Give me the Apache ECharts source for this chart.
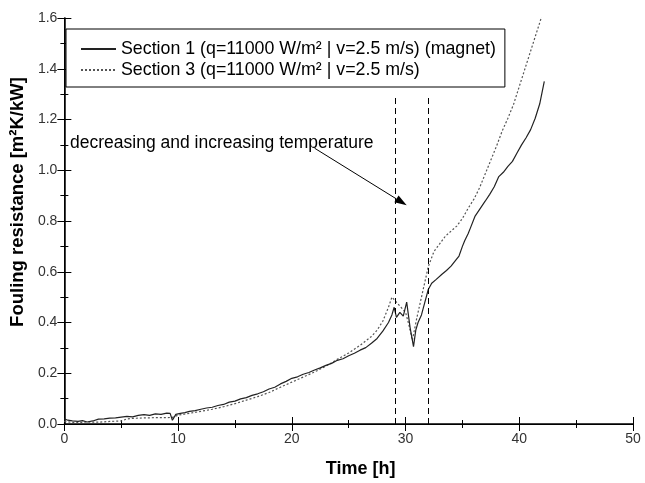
<!DOCTYPE html>
<html>
<head>
<meta charset="utf-8">
<script src="https://cdn.jsdelivr.net/npm/echarts@6/dist/echarts.min.js"></script>
<style>
  html, body { margin: 0; padding: 0; background: #fff; }
  #chart { width: 645px; height: 483px; }
</style>
</head>
<body>
<div id="chart"></div>
<script>
// Section 1 (magnet) - [time h, fouling resistance m²K/kW]
var section1 = [
  [0, 0.020], [0.3, 0.015], [0.7, 0.012], [1.2, 0.010], [1.6, 0.013], [2.0, 0.008],
  [2.5, 0.012], [3.0, 0.019], [3.5, 0.020], [4.0, 0.023], [4.5, 0.024], [5.0, 0.027],
  [5.5, 0.030], [6.0, 0.028], [6.5, 0.034], [7.0, 0.037], [7.5, 0.034], [8.0, 0.040],
  [8.5, 0.038], [9.0, 0.043], [9.3, 0.042], [9.5, 0.015], [9.8, 0.038], [10.2, 0.042],
  [10.6, 0.045], [11.0, 0.050], [11.5, 0.053], [12.0, 0.058], [12.5, 0.063], [13.0, 0.066],
  [13.5, 0.073], [14.0, 0.077], [14.5, 0.086], [15.0, 0.090], [15.5, 0.099], [16.0, 0.104],
  [16.5, 0.113], [17.0, 0.119], [17.5, 0.127], [18.0, 0.138], [18.5, 0.145], [19.0, 0.158],
  [19.5, 0.168], [20.0, 0.180], [20.5, 0.186], [21.0, 0.196], [21.5, 0.203], [22.0, 0.213],
  [22.5, 0.221], [23.0, 0.231], [23.5, 0.239], [24.0, 0.251], [24.5, 0.257], [25.0, 0.269],
  [25.5, 0.279], [26.0, 0.291], [26.5, 0.301], [27.0, 0.318], [27.5, 0.337], [28.0, 0.366],
  [28.5, 0.400], [28.8, 0.430], [29.0, 0.460], [29.2, 0.420], [29.5, 0.440], [29.8, 0.425],
  [30.1, 0.480], [30.4, 0.380], [30.7, 0.305], [30.9, 0.370], [31.1, 0.400], [31.4, 0.430],
  [31.7, 0.480], [32.0, 0.530], [32.3, 0.555], [32.7, 0.570], [33.2, 0.590], [33.6, 0.605],
  [34.0, 0.622], [34.4, 0.645], [34.7, 0.662], [35.0, 0.700], [35.2, 0.722], [35.5, 0.750],
  [35.7, 0.772], [36.1, 0.818], [36.5, 0.845], [37.0, 0.878], [37.4, 0.905], [37.8, 0.935],
  [38.2, 0.975], [38.6, 0.992], [39.0, 1.015], [39.4, 1.035], [39.8, 1.068], [40.2, 1.100],
  [40.6, 1.128], [41.0, 1.160], [41.4, 1.205], [41.8, 1.262], [42.2, 1.350]
];

// Section 3 (no magnet)
var section3 = [
  [0, 0.010], [1.0, 0.005], [2.0, 0.008], [3.0, 0.007], [4.0, 0.010], [5.0, 0.012],
  [5.5, 0.020], [6.0, 0.022], [7.0, 0.024], [8.0, 0.025], [9.0, 0.025], [9.5, 0.026],
  [10.0, 0.035], [11.0, 0.042], [12.0, 0.050], [13.0, 0.058], [14.0, 0.068], [15.0, 0.080],
  [16.0, 0.094], [17.0, 0.108], [18.0, 0.124], [19.0, 0.145], [20.0, 0.165], [21.0, 0.185],
  [22.0, 0.205], [23.0, 0.228], [24.0, 0.255], [25.0, 0.280], [26.0, 0.310], [27.0, 0.345],
  [27.5, 0.370], [28.0, 0.405], [28.5, 0.460], [28.8, 0.500], [29.2, 0.480], [29.6, 0.460],
  [30.0, 0.440], [30.3, 0.390], [30.6, 0.330], [31.0, 0.420], [31.5, 0.520], [32.0, 0.620],
  [32.5, 0.680], [33.0, 0.710], [33.5, 0.740], [34.0, 0.760], [34.5, 0.780], [35.0, 0.810],
  [35.5, 0.850], [36.0, 0.885], [36.5, 0.930], [37.0, 0.985], [37.5, 1.040], [38.0, 1.095],
  [38.5, 1.155], [39.0, 1.205], [39.5, 1.260], [40.0, 1.330], [40.5, 1.400], [41.0, 1.470],
  [41.5, 1.540], [42.0, 1.610], [42.3, 1.660]
];

var seriesNames = [
  "Section 1 (q=11000 W/m² | v=2.5 m/s) (magnet)",
  "Section 3 (q=11000 W/m² | v=2.5 m/s)"
];

// temperature step markers (h), drawn from 0 up to markerTop
var markerTimes = [29.1, 32.0];
var markerTop = 1.3;

// annotation arrow: start / end in data units
var arrowStart = [22.0, 1.087];
var arrowEnd = [30.1, 0.862];
var annotationText = "decreasing and increasing temperature";

var xMin = 0, xMax = 50, xStep = 10;
var yMin = 0, yMax = 1.6, yStep = 0.2;

var chart = echarts.init(document.getElementById("chart"));

var font = "Liberation Sans, Arial, sans-serif";

var tickStyle = {
  inside: true,
  length: 7,
  lineStyle: { color: "#000", width: 1 }
};
var minorStyle = {
  show: true,
  splitNumber: 2,
  length: 4,
  lineStyle: { color: "#000", width: 1 }
};

var option = {
  animation: false,
  backgroundColor: "#fff",
  grid: { left: 59, right: 12, top: 18, bottom: 54 },
  legend: {
    orient: "vertical",
    left: 66,
    top: 29,
    padding: [10, 9, 7, 14],
    itemWidth: 35,
    itemHeight: 14,
    itemGap: 1,
    backgroundColor: "#fff",
    borderColor: "#000",
    borderWidth: 1,
    itemStyle: { color: "rgba(0,0,0,0)", borderWidth: 0, opacity: 0 },
    textStyle: { fontFamily: font, fontSize: 17.8, color: "#000", lineHeight: 20 },
    data: seriesNames
  },
  xAxis: [
    {
      type: "value",
      min: xMin, max: xMax, interval: xStep,
      name: "Time [h]",
      nameLocation: "middle",
      nameGap: 36,
      nameTextStyle: { fontFamily: font, fontSize: 18, fontWeight: "bold", color: "#000", padding: [0, 0, 0, 24] },
      axisLine: { show: true, lineStyle: { color: "#000", width: 1.5 } },
      axisTick: tickStyle,
      minorTick: minorStyle,
      splitLine: { show: false },
      axisLabel: { fontFamily: font, fontSize: 14, color: "#333", margin: 8 }
    },
    {
      type: "value",
      position: "top",
      min: xMin, max: xMax, interval: xStep,
      axisLine: { show: true, lineStyle: { color: "#000", width: 1 } },
      axisTick: tickStyle,
      minorTick: minorStyle,
      splitLine: { show: false },
      axisLabel: { show: false }
    }
  ],
  yAxis: [
    {
      type: "value",
      min: yMin, max: yMax, interval: yStep,
      name: "Fouling resistance [m²K/kW]",
      nameLocation: "middle",
      nameGap: 31,
      nameTextStyle: { fontFamily: font, fontSize: 18.5, fontWeight: "bold", color: "#000", padding: [0, 0, 0, 38] },
      axisLine: { show: true, lineStyle: { color: "#000", width: 1.5 } },
      axisTick: tickStyle,
      minorTick: minorStyle,
      splitLine: { show: false },
      axisLabel: {
        fontFamily: font, fontSize: 14, color: "#333", margin: 7,
        formatter: function (v) { return v.toFixed(1); }
      }
    },
    {
      type: "value",
      position: "right",
      min: yMin, max: yMax, interval: yStep,
      axisLine: { show: true, lineStyle: { color: "#000", width: 1 } },
      axisTick: tickStyle,
      minorTick: minorStyle,
      splitLine: { show: false },
      axisLabel: { show: false }
    }
  ],
  series: [
    {
      name: seriesNames[0],
      type: "line",
      data: section1,
      symbol: "none",
      z: 3,
      lineStyle: { color: "#222", width: 1.2, type: "solid" },
      itemStyle: { color: "#222" },
      markLine: {
        silent: true,
        symbol: ["none", "none"],
        label: { show: false },
        lineStyle: { color: "#000", width: 1, type: [6, 4] },
        data: markerTimes.map(function (t) {
          return [{ coord: [t, yMin] }, { coord: [t, markerTop] }];
        })
      }
    },
    {
      name: seriesNames[1],
      type: "line",
      data: section3,
      symbol: "none",
      z: 2,
      lineStyle: { color: "#555", width: 1.2, type: [2, 2] },
      itemStyle: { color: "#555" }
    }
  ]
};

chart.setOption(option);

// annotation: text + arrow, positioned through the axes
var p0 = chart.convertToPixel({ gridIndex: 0 }, arrowStart);
var p1 = chart.convertToPixel({ gridIndex: 0 }, arrowEnd);
var dx = p1[0] - p0[0], dy = p1[1] - p0[1];
var len = Math.sqrt(dx * dx + dy * dy);
var ux = dx / len, uy = dy / len;
var headLen = 12, headHalf = 4;
var bx = p1[0] - ux * headLen, by = p1[1] - uy * headLen;

chart.setOption({
  graphic: [
    {
      type: "text",
      left: 70,
      top: 134,
      z: 10,
      style: { text: annotationText, fontFamily: font, fontSize: 17.5, fill: "#000" }
    },
    {
      type: "line",
      z: 10,
      shape: { x1: p0[0], y1: p0[1], x2: bx, y2: by },
      style: { stroke: "#000", lineWidth: 1 }
    },
    {
      type: "polygon",
      z: 10,
      shape: {
        points: [
          [p1[0], p1[1]],
          [bx - uy * headHalf, by + ux * headHalf],
          [bx + uy * headHalf, by - ux * headHalf]
        ]
      },
      style: { fill: "#000" }
    }
  ]
});
</script>
</body>
</html>
